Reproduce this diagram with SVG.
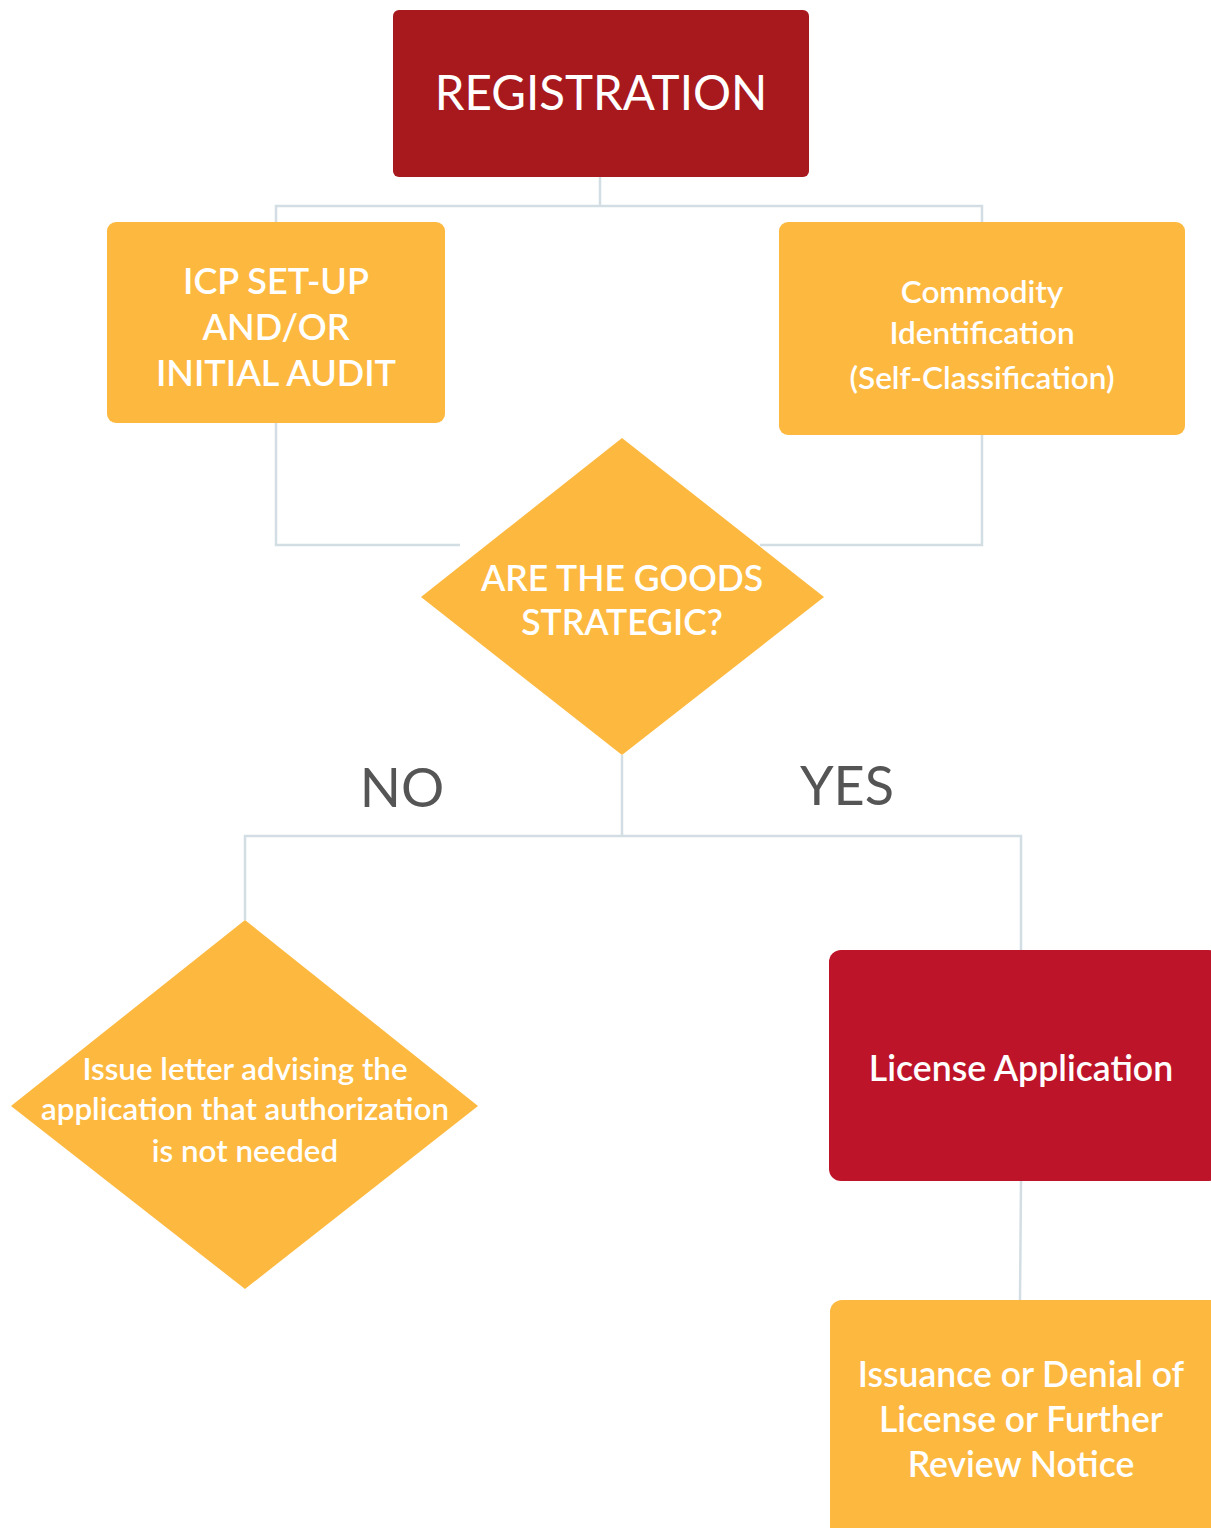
<svg xmlns="http://www.w3.org/2000/svg" width="1211" height="1528" viewBox="0 0 1211 1528">
<style>
.conn{fill:none;stroke:#D3DEE4;stroke-width:2.5}
.or{fill:#FDB93F}
.lbl{font-family:Lato,"Liberation Sans",sans-serif;fill:#FFFFFF;text-anchor:middle;dominant-baseline:central}
.b{font-weight:600}
.yn{font-family:Lato,"Liberation Sans",sans-serif;fill:#555555;text-anchor:middle;font-size:54px}
</style>
<rect width="1211" height="1528" fill="#FFFFFF"/>
<g id="connectors">
<path class="conn" d="M600,177 V206 M276,222 V206 H982 V222"/>
<path class="conn" d="M276,423 V545 H460 M982,435 V545 H760"/>
<path class="conn" d="M622,755 V836 M245,920 V836 H1021 V950"/>
<path class="conn" d="M1021,1181 L1020,1300"/>
</g>
<g id="registration">
<rect x="393" y="10" width="416" height="167" rx="6" fill="#A8191E"/>
<text class="lbl" x="601" y="91" font-size="47.5">REGISTRATION</text>
</g>
<g id="icp">
<rect class="or" x="107" y="222" width="338" height="201" rx="9"/>
<text class="lbl b" x="276" y="280" font-size="36">ICP SET-UP</text>
<text class="lbl b" x="276" y="326" font-size="36">AND/OR</text>
<text class="lbl b" x="276" y="372" font-size="36">INITIAL AUDIT</text>
</g>
<g id="commodity">
<rect class="or" x="779" y="222" width="406" height="213" rx="9"/>
<text class="lbl b" x="982" y="291" font-size="31.5">Commodity</text>
<text class="lbl b" x="982" y="332" font-size="31.5">Identification</text>
<text class="lbl b" x="982" y="377" font-size="31.5">(Self-Classification)</text>
</g>
<g id="strategic">
<polygon class="or" points="622,438 824,597 622,755 421,597"/>
<text class="lbl b" x="622" y="577" font-size="35.5">ARE THE GOODS</text>
<text class="lbl b" x="622" y="621" font-size="35.5">STRATEGIC?</text>
</g>
<text id="no" class="yn" x="402" y="807">NO</text>
<text id="yes" class="yn" x="847" y="805">YES</text>
<g id="issue-letter">
<polygon class="or" points="245,920 478,1106 245,1289 11,1106"/>
<text class="lbl b" x="245" y="1068" font-size="31.3">Issue letter advising the</text>
<text class="lbl b" x="245" y="1108" font-size="31.3">application that authorization</text>
<text class="lbl b" x="245" y="1150" font-size="31.3">is not needed</text>
</g>
<g id="license">
<rect x="829" y="950" width="392" height="231" rx="12" fill="#BE1429"/>
<text class="lbl b" x="1021" y="1067" font-size="35.6">License Application</text>
</g>
<g id="issuance">
<rect class="or" x="830" y="1300" width="392" height="240" rx="12"/>
<text class="lbl b" x="1021" y="1373" font-size="35.5">Issuance or Denial of</text>
<text class="lbl b" x="1021" y="1418" font-size="35.5">License or Further</text>
<text class="lbl b" x="1021" y="1463" font-size="35.5">Review Notice</text>
</g>
</svg>
